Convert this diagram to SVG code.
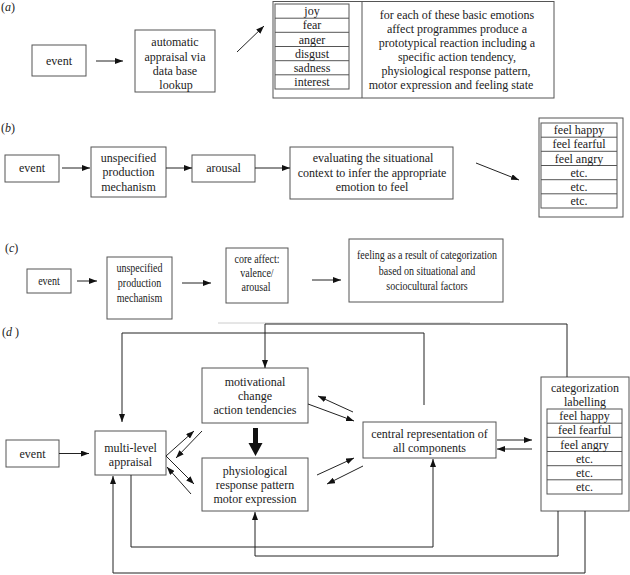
<svg xmlns="http://www.w3.org/2000/svg" width="630" height="575" viewBox="0 0 630 575">
<style>
.b{fill:#fff;stroke:#555;stroke-width:1}
.t{font-family:"Liberation Serif","Times New Roman",serif;font-size:12px;fill:#222;text-anchor:middle;dominant-baseline:central}
.s{font-size:11.5px}
.lab{font-family:"Liberation Serif","Times New Roman",serif;font-size:12px;fill:#222}
.c{fill:none;stroke:#222;stroke-width:1}
.ca{fill:none;stroke:#222;stroke-width:1;marker-end:url(#ah)}
</style>
<defs>
<marker id="ah" viewBox="0 0 8 6" refX="8" refY="3" markerWidth="8" markerHeight="6" markerUnits="userSpaceOnUse" orient="auto">
<path d="M0,0 L8,3 L0,6 z" fill="#111"/>
</marker>
</defs>
<rect width="630" height="575" fill="#fff"/>

<!-- panel labels -->
<text class="lab" x="1" y="11">(<tspan font-style="italic">a</tspan>)</text>
<text class="lab" x="1" y="132">(<tspan font-style="italic">b</tspan>)</text>
<text class="lab" x="5" y="252">(<tspan font-style="italic">c</tspan>)</text>
<text class="lab" x="2" y="336">(<tspan font-style="italic">d</tspan> )</text>

<!-- Panel a -->
<g id="a-event"><rect class="b" x="32" y="45" width="54" height="31"/><text class="t" x="59" y="60.5">event</text></g>
<g id="a-appraisal"><rect class="b" x="135" y="30" width="80" height="62"/>
<text class="t" x="175" y="42">automatic</text><text class="t" x="175" y="57">appraisal via</text><text class="t" x="175" y="71">data base</text><text class="t" x="176" y="85">lookup</text></g>
<g id="a-programmes"><rect class="b" x="273" y="1.5" width="281" height="96.5"/><line x1="362" y1="1.5" x2="362" y2="98" stroke="#555"/>
<rect class="b" x="275" y="4" width="74" height="85"/>
<g stroke="#555"><line x1="275" y1="18.2" x2="349" y2="18.2"/><line x1="275" y1="32.3" x2="349" y2="32.3"/><line x1="275" y1="46.5" x2="349" y2="46.5"/><line x1="275" y1="60.7" x2="349" y2="60.7"/><line x1="275" y1="74.8" x2="349" y2="74.8"/></g>
<text class="t" x="312" y="11">joy</text><text class="t" x="312" y="25">fear</text><text class="t" x="312" y="39.5">anger</text><text class="t" x="312" y="53.5">disgust</text><text class="t" x="312" y="68">sadness</text><text class="t" x="312" y="82">interest</text>
<text class="t" x="457" y="15">for each of these basic emotions</text>
<text class="t" x="457" y="28.5">affect programmes produce a</text>
<text class="t" x="457" y="43">prototypical reaction including a</text>
<text class="t" x="457" y="57">specific action tendency,</text>
<text class="t" x="456" y="71">physiological response pattern,</text>
<text class="t" x="451" y="85">motor expression and feeling state</text></g>

<!-- Panel b -->
<g id="b-event"><rect class="b" x="5" y="155" width="54" height="27"/><text class="t" x="32" y="168">event</text></g>
<g id="b-mechanism"><rect class="b" x="91" y="147" width="75" height="50"/>
<text class="t" x="128.5" y="158">unspecified</text><text class="t" x="128.5" y="172">production</text><text class="t" x="128.5" y="186.5">mechanism</text></g>
<g id="b-arousal"><rect class="b" x="192" y="155" width="63" height="27"/><text class="t" x="223.5" y="167.5">arousal</text></g>
<g id="b-evaluating"><rect class="b" x="290" y="147" width="163" height="52"/>
<text class="t" x="373" y="158">evaluating the situational</text><text class="t" x="372" y="172.5">context to infer the appropriate</text><text class="t" x="372" y="187">emotion to feel</text></g>
<g id="b-feelings"><rect class="b" x="539" y="118" width="84" height="99"/>
<rect class="b" x="541" y="123" width="76" height="85"/>
<g stroke="#555"><line x1="541" y1="137.2" x2="617" y2="137.2"/><line x1="541" y1="151.3" x2="617" y2="151.3"/><line x1="541" y1="165.5" x2="617" y2="165.5"/><line x1="541" y1="179.7" x2="617" y2="179.7"/><line x1="541" y1="193.8" x2="617" y2="193.8"/></g>
<text class="t" x="579" y="130">feel happy</text><text class="t" x="579" y="144">feel fearful</text><text class="t" x="579" y="158.5">feel angry</text><text class="t" x="579" y="172.5">etc.</text><text class="t" x="579" y="187">etc.</text><text class="t" x="579" y="201">etc.</text></g>

<!-- Panel c -->
<g id="c-event"><rect class="b" x="27" y="269" width="44" height="24"/><text class="t s" transform="translate(49,281) scale(0.87,1)">event</text></g>
<g id="c-mechanism"><rect class="b" x="107" y="257" width="65" height="62"/>
<text class="t s" transform="translate(139.5,268) scale(0.87,1)">unspecified</text><text class="t s" transform="translate(139.5,283) scale(0.87,1)">production</text><text class="t s" transform="translate(139.5,298) scale(0.87,1)">mechanism</text></g>
<g id="c-core"><rect class="b" x="226" y="248" width="62" height="55"/>
<text class="t s" transform="translate(257,258.5) scale(0.87,1)">core affect:</text><text class="t s" transform="translate(257,272.5) scale(0.87,1)">valence/</text><text class="t s" transform="translate(256,286.5) scale(0.87,1)">arousal</text></g>
<g id="c-feeling"><rect class="b" x="349" y="239" width="154" height="63"/>
<text class="t s" transform="translate(427,255) scale(0.87,1)">feeling as a result of categorization</text><text class="t s" transform="translate(427,271) scale(0.87,1)">based on situational and</text><text class="t s" transform="translate(427,286) scale(0.87,1)">sociocultural factors</text></g>
<line x1="218" y1="323" x2="470" y2="323" stroke="#ccc" stroke-width="1"/>

<!-- Panel d -->
<g id="d-event"><rect class="b" x="6" y="440" width="53" height="27"/><text class="t" x="32.5" y="453.5">event</text></g>
<g id="d-appraisal"><rect class="b" x="95" y="431" width="71" height="44"/>
<text class="t" x="130.5" y="447.5">multi-level</text><text class="t" x="130.5" y="461.5">appraisal</text></g>
<g id="d-motivational"><rect class="b" x="202" y="368" width="106" height="55"/>
<text class="t" x="255" y="382">motivational</text><text class="t" x="255" y="396">change</text><text class="t" x="255" y="410">action tendencies</text></g>
<g id="d-physiological"><rect class="b" x="202" y="458" width="106" height="53"/>
<text class="t" x="255" y="471">physiological</text><text class="t" x="255" y="485">response pattern</text><text class="t" x="255" y="499">motor expression</text></g>
<g id="d-central"><rect class="b" x="363" y="422" width="133" height="36"/>
<text class="t" x="429.5" y="433.5">central representation of</text><text class="t" x="429.5" y="448">all components</text></g>
<g id="d-categorization"><rect class="b" x="541" y="377" width="88" height="134"/>
<text class="t" x="585" y="387.5">categorization</text><text class="t" x="585" y="401.5">labelling</text>
<rect class="b" x="547" y="409" width="75" height="85"/>
<g stroke="#555"><line x1="547" y1="423.2" x2="622" y2="423.2"/><line x1="547" y1="437.3" x2="622" y2="437.3"/><line x1="547" y1="451.5" x2="622" y2="451.5"/><line x1="547" y1="465.7" x2="622" y2="465.7"/><line x1="547" y1="479.8" x2="622" y2="479.8"/></g>
<text class="t" x="584.5" y="416">feel happy</text><text class="t" x="584.5" y="430">feel fearful</text><text class="t" x="584.5" y="444.5">feel angry</text><text class="t" x="584.5" y="458.5">etc.</text><text class="t" x="584.5" y="473">etc.</text><text class="t" x="584.5" y="487">etc.</text></g>

<g id="connectors">
<!-- a -->
<line class="ca" x1="96" y1="61" x2="123" y2="61"/>
<line class="ca" x1="237" y1="52" x2="264" y2="26"/>
<!-- b -->
<line class="ca" x1="62" y1="168" x2="90" y2="168"/>
<line class="ca" x1="166" y1="168" x2="192" y2="168"/>
<line class="ca" x1="255" y1="168" x2="290" y2="168"/>
<line class="ca" x1="476" y1="163" x2="519" y2="180"/>
<!-- c -->
<line class="ca" x1="77" y1="281" x2="97" y2="281"/>
<line class="ca" x1="182" y1="283" x2="211" y2="283"/>
<line class="ca" x1="312" y1="280" x2="341" y2="280"/>
<!-- d -->
<line class="ca" x1="59" y1="453.5" x2="89" y2="453.5"/>
<line class="ca" x1="166" y1="456" x2="194" y2="431"/>
<line class="ca" x1="166" y1="456" x2="194" y2="484"/>
<line class="ca" x1="202" y1="431" x2="176" y2="458"/>
<line class="ca" x1="191" y1="494" x2="167" y2="467"/>
<line class="ca" x1="353" y1="412" x2="318" y2="396"/>
<line class="ca" x1="308" y1="404" x2="354" y2="421"/>
<line class="ca" x1="317" y1="475" x2="354" y2="458"/>
<line class="ca" x1="363" y1="466" x2="327" y2="484"/>
<line class="ca" x1="497" y1="440" x2="532" y2="440"/>
<line class="ca" x1="532" y1="449" x2="497" y2="449"/>
<path d="M253,428 H258 V443 H262.5 L255.5,456 L248.5,443 H253 Z" fill="#111"/>
<polyline class="ca" points="424,405 424,333 122,333 122,422"/>
<polyline class="ca" points="567,377 567,324 265,324 265,368"/>
<polyline class="ca" points="131,475 131,547 433,547 433,459"/>
<polyline class="ca" points="558,511 558,556 255,556 255,512"/>
<polyline class="ca" points="585,511 585,573 113,573 113,476"/>
</g>
</svg>
